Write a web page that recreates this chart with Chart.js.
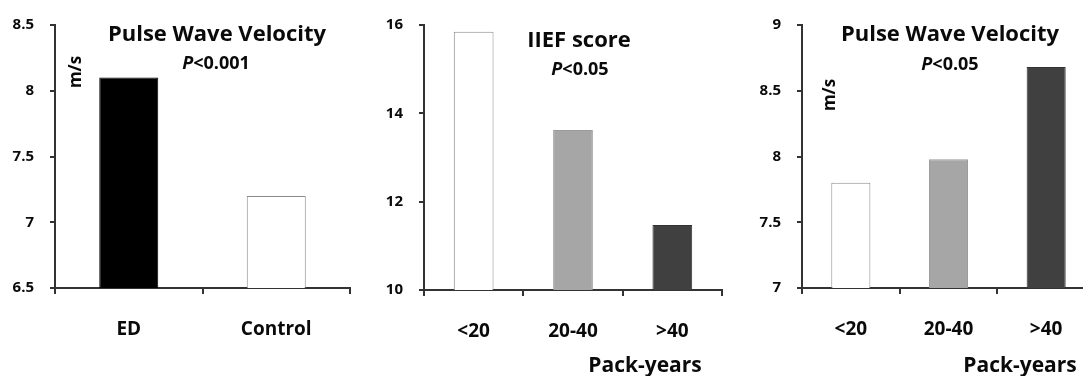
<!DOCTYPE html>
<html>
<head>
<meta charset="utf-8">
<script src="https://cdn.jsdelivr.net/npm/chart.js@4"></script>
<style>
  body { margin: 0; width: 1083px; height: 376px; overflow: hidden; background: #fff; position: relative; }
  canvas { position: absolute; top: 0; }
</style>
</head>
<body>
<canvas id="pwvGroup" width="360" height="376" style="left:0px"></canvas>
<canvas id="iiefPack" width="366" height="376" style="left:360px"></canvas>
<canvas id="pwvPack" width="380" height="376" style="left:726px"></canvas>
<script>
// values
const groupLabels = ['ED', 'Control'];
const groupPwv = [8.1, 7.2];
const packLabels = ['<20', '20-40', '>40'];
const packIief = [15.85, 13.62, 11.47];
const packPwv = [7.8, 7.98, 8.68];

const FONT = '"Open Sans", Lato, sans-serif';
const AXIS = '#333';

// draws the titles / p-values / unit labels that sit inside each panel
// (y is the text baseline, except for rotated labels which are centred)
const notesPlugin = {
    id: 'notes',
    afterDraw(chart, args, opts) {
        const ctx = chart.ctx;
        ctx.save();
        ctx.fillStyle = '#0a0a0a';
        (opts.items || []).forEach(n => {
            ctx.save();
            ctx.translate(n.x, n.y);
            if (n.rotate) {
                ctx.rotate(n.rotate);
                ctx.textBaseline = 'middle';
            } else {
                ctx.textBaseline = 'alphabetic';
            }
            const bold = `bold ${n.size}px ${FONT}`;
            if (n.italic) {
                // italic "P" followed by the rest
                ctx.font = `italic bold ${n.size}px ${FONT}`;
                const w1 = ctx.measureText(n.italic).width;
                ctx.font = bold;
                const w2 = ctx.measureText(n.text).width;
                let x = -(w1 + w2) / 2;
                ctx.textAlign = 'left';
                ctx.font = `italic bold ${n.size}px ${FONT}`;
                ctx.fillText(n.italic, x, 0);
                ctx.font = bold;
                ctx.fillText(n.text, x + w1, 0);
            } else {
                ctx.font = bold;
                ctx.textAlign = 'center';
                ctx.fillText(n.text, 0, 0);
            }
            ctx.restore();
        });
        ctx.restore();
    }
};

function makePanel(id, labels, values, fills, borders, yMin, yMax, step, box, notes) {
    return new Chart(document.getElementById(id), {
        type: 'bar',
        data: {
            labels: labels,
            datasets: [{
                data: values,
                backgroundColor: fills,
                borderColor: borders,
                borderWidth: 1,
                barPercentage: 0.4,
                categoryPercentage: 1
            }]
        },
        options: {
            responsive: false,
            animation: false,
            layout: {
                autoPadding: false,
                padding: { top: box.top, right: box.right, left: 0, bottom: 0 }
            },
            plugins: {
                legend: { display: false },
                tooltip: { enabled: false },
                notes: { items: notes }
            },
            scales: {
                x: {
                    afterFit: s => { s.height = box.xHeight; },
                    grid: { drawOnChartArea: false, drawTicks: true, tickLength: 6, color: AXIS, lineWidth: 2 },
                    border: { color: AXIS, width: 2 },
                    ticks: { color: '#0a0a0a', font: { family: FONT, size: 19, weight: 'bold' }, padding: 24 }
                },
                y: {
                    min: yMin,
                    max: yMax,
                    afterFit: s => { s.width = box.yWidth; },
                    grid: { drawOnChartArea: false, drawTicks: true, tickLength: 5, color: AXIS, lineWidth: 2 },
                    border: { color: AXIS, width: 2 },
                    ticks: {
                        stepSize: step,
                        color: '#0a0a0a',
                        font: { family: FONT, size: 15, weight: 'bold' },
                        padding: 16,
                        callback: v => String(+v.toFixed(2))
                    }
                }
            }
        },
        plugins: [notesPlugin]
    });
}

makePanel('pwvGroup', groupLabels, groupPwv,
    ['#000000', '#ffffff'], ['#000000', '#8a8a8a'],
    6.5, 8.5, 0.5,
    { top: 20, right: 10, yWidth: 55, xHeight: 88 },
    [
        { text: 'Pulse Wave Velocity', x: 217, y: 41, size: 22 },
        { italic: 'P', text: '<0.001', x: 216, y: 69, size: 18 },
        { text: 'm/s', x: 76, y: 72, size: 17, rotate: -Math.PI / 2 }
    ]);

makePanel('iiefPack', packLabels, packIief,
    ['#ffffff', '#a6a6a6', '#404040'], ['#8a8a8a', '#9a9a9a', '#333333'],
    10, 16, 2,
    { top: 22, right: 4, yWidth: 64, xHeight: 86 },
    [
        { text: 'IIEF score', x: 219, y: 47, size: 22 },
        { italic: 'P', text: '<0.05', x: 220, y: 75, size: 18 },
        { text: 'Pack-years', x: 285, y: 372, size: 21 }
    ]);

makePanel('pwvPack', packLabels, packPwv,
    ['#ffffff', '#a6a6a6', '#404040'], ['#8a8a8a', '#9a9a9a', '#333333'],
    7, 9, 0.5,
    { top: 21, right: 11, yWidth: 76, xHeight: 88 },
    [
        { text: 'Pulse Wave Velocity', x: 224, y: 41, size: 22 },
        { italic: 'P', text: '<0.05', x: 224, y: 70, size: 18 },
        { text: 'm/s', x: 104, y: 95, size: 17, rotate: -Math.PI / 2 },
        { text: 'Pack-years', x: 294, y: 372, size: 21 }
    ]);
</script>
</body>
</html>
